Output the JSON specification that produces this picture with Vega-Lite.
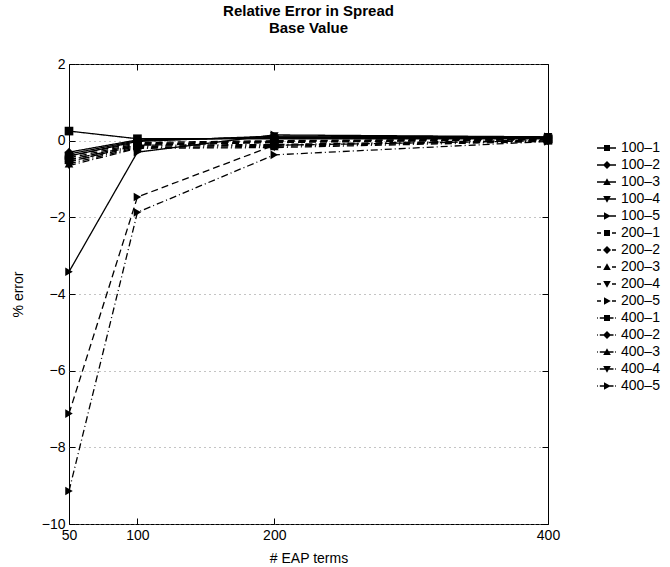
{
  "$schema": "https://vega.github.io/schema/vega-lite/v6.json",
  "width": 479,
  "height": 460,
  "autosize": "none",
  "padding": {"left": 69, "top": 64, "right": 122, "bottom": 43},
  "config": {
    "view": {"stroke": "black", "strokeWidth": 1},
    "font": "Liberation Sans",
    "axis": {
      "labelFont": "Liberation Sans", "labelFontSize": 14, "labelColor": "black",
      "titleFont": "Liberation Sans", "titleFontSize": 14, "titleFontWeight": "normal", "titleColor": "black",
      "domainColor": "black", "tickColor": "black", "grid": false
    }
  },
  "title": {
    "text": ["Relative Error in Spread", "Base Value"],
    "anchor": "middle", "fontSize": 15, "fontWeight": "bold", "font": "Liberation Sans",
    "color": "black", "offset": 21, "lineHeight": 17
  },
  "data": {
    "values": [
      {"s": "100–1", "g": "100", "m": "sq", "x": 50, "y": 0.25},
      {"s": "100–1", "g": "100", "m": "sq", "x": 100, "y": 0.05},
      {"s": "100–1", "g": "100", "m": "sq", "x": 200, "y": 0.05},
      {"s": "100–1", "g": "100", "m": "sq", "x": 400, "y": 0.05},
      {"s": "100–2", "g": "100", "m": "di", "x": 50, "y": -0.3},
      {"s": "100–2", "g": "100", "m": "di", "x": 100, "y": 0.02},
      {"s": "100–2", "g": "100", "m": "di", "x": 200, "y": 0.08},
      {"s": "100–2", "g": "100", "m": "di", "x": 400, "y": 0.08},
      {"s": "100–3", "g": "100", "m": "up", "x": 50, "y": -0.35},
      {"s": "100–3", "g": "100", "m": "up", "x": 100, "y": 0.0},
      {"s": "100–3", "g": "100", "m": "up", "x": 200, "y": 0.1},
      {"s": "100–3", "g": "100", "m": "up", "x": 400, "y": 0.08},
      {"s": "100–4", "g": "100", "m": "dn", "x": 50, "y": -0.4},
      {"s": "100–4", "g": "100", "m": "dn", "x": 100, "y": -0.02},
      {"s": "100–4", "g": "100", "m": "dn", "x": 200, "y": 0.12},
      {"s": "100–4", "g": "100", "m": "dn", "x": 400, "y": 0.1},
      {"s": "100–5", "g": "100", "m": "rt", "x": 50, "y": -3.42},
      {"s": "100–5", "g": "100", "m": "rt", "x": 100, "y": -0.3},
      {"s": "100–5", "g": "100", "m": "rt", "x": 200, "y": 0.15},
      {"s": "100–5", "g": "100", "m": "rt", "x": 400, "y": 0.1},
      {"s": "200–1", "g": "200", "m": "sq", "x": 50, "y": -0.4},
      {"s": "200–1", "g": "200", "m": "sq", "x": 100, "y": -0.05},
      {"s": "200–1", "g": "200", "m": "sq", "x": 200, "y": 0.0},
      {"s": "200–1", "g": "200", "m": "sq", "x": 400, "y": 0.05},
      {"s": "200–2", "g": "200", "m": "di", "x": 50, "y": -0.45},
      {"s": "200–2", "g": "200", "m": "di", "x": 100, "y": -0.08},
      {"s": "200–2", "g": "200", "m": "di", "x": 200, "y": -0.02},
      {"s": "200–2", "g": "200", "m": "di", "x": 400, "y": 0.05},
      {"s": "200–3", "g": "200", "m": "up", "x": 50, "y": -0.5},
      {"s": "200–3", "g": "200", "m": "up", "x": 100, "y": -0.1},
      {"s": "200–3", "g": "200", "m": "up", "x": 200, "y": -0.03},
      {"s": "200–3", "g": "200", "m": "up", "x": 400, "y": 0.03},
      {"s": "200–4", "g": "200", "m": "dn", "x": 50, "y": -0.55},
      {"s": "200–4", "g": "200", "m": "dn", "x": 100, "y": -0.12},
      {"s": "200–4", "g": "200", "m": "dn", "x": 200, "y": -0.05},
      {"s": "200–4", "g": "200", "m": "dn", "x": 400, "y": 0.03},
      {"s": "200–5", "g": "200", "m": "rt", "x": 50, "y": -7.12},
      {"s": "200–5", "g": "200", "m": "rt", "x": 100, "y": -1.47},
      {"s": "200–5", "g": "200", "m": "rt", "x": 200, "y": -0.12},
      {"s": "200–5", "g": "200", "m": "rt", "x": 400, "y": 0.0},
      {"s": "400–1", "g": "400", "m": "sq", "x": 50, "y": -0.5},
      {"s": "400–1", "g": "400", "m": "sq", "x": 100, "y": -0.12},
      {"s": "400–1", "g": "400", "m": "sq", "x": 200, "y": -0.1},
      {"s": "400–1", "g": "400", "m": "sq", "x": 400, "y": 0.02},
      {"s": "400–2", "g": "400", "m": "di", "x": 50, "y": -0.55},
      {"s": "400–2", "g": "400", "m": "di", "x": 100, "y": -0.15},
      {"s": "400–2", "g": "400", "m": "di", "x": 200, "y": -0.12},
      {"s": "400–2", "g": "400", "m": "di", "x": 400, "y": 0.0},
      {"s": "400–3", "g": "400", "m": "up", "x": 50, "y": -0.6},
      {"s": "400–3", "g": "400", "m": "up", "x": 100, "y": -0.18},
      {"s": "400–3", "g": "400", "m": "up", "x": 200, "y": -0.15},
      {"s": "400–3", "g": "400", "m": "up", "x": 400, "y": 0.0},
      {"s": "400–4", "g": "400", "m": "dn", "x": 50, "y": -0.65},
      {"s": "400–4", "g": "400", "m": "dn", "x": 100, "y": -0.2},
      {"s": "400–4", "g": "400", "m": "dn", "x": 200, "y": -0.18},
      {"s": "400–4", "g": "400", "m": "dn", "x": 400, "y": -0.02},
      {"s": "400–5", "g": "400", "m": "rt", "x": 50, "y": -9.14},
      {"s": "400–5", "g": "400", "m": "rt", "x": 100, "y": -1.87},
      {"s": "400–5", "g": "400", "m": "rt", "x": 200, "y": -0.37},
      {"s": "400–5", "g": "400", "m": "rt", "x": 400, "y": -0.02}
    ]
  },
  "layer": [
    {
      "mark": {"type": "line", "color": "black", "strokeWidth": 1.3},
      "encoding": {
        "x": {"field": "x", "type": "quantitative", "scale": {"domain": [50, 400], "nice": false, "zero": false},
          "axis": {"values": [50, 100, 200, 400], "tickSize": -6, "labelPadding": 10, "labelFlush": false, "title": "# EAP terms", "titlePadding": 9, "domain": false}},
        "y": {"field": "y", "type": "quantitative", "scale": {"domain": [-10, 2], "nice": false, "zero": false},
          "axis": {"values": [-10, -8, -6, -4, -2, 0, 2], "tickSize": -6, "labelPadding": 10, "labelFlush": false, "grid": true, "gridDash": [1, 4], "gridColor": "#888888", "title": "% error", "titlePadding": 16, "domain": false}},
        "detail": {"field": "s", "type": "nominal"},
        "strokeDash": {"field": "g", "type": "nominal", "scale": {"domain": ["100", "200", "400"], "range": [[1, 0], [7, 4], [7, 3, 1, 3]]}, "legend": null}
      }
    },
    {
      "mark": {"type": "point", "filled": true, "color": "black", "size": 75, "opacity": 1},
      "encoding": {
        "x": {"field": "x", "type": "quantitative", "axis": {"orient": "top", "values": [50, 100, 200, 400], "tickSize": -6, "labels": false, "title": null, "domain": false}},
        "y": {"field": "y", "type": "quantitative", "axis": {"orient": "right", "values": [-10, -8, -6, -4, -2, 0, 2], "tickSize": -6, "labels": false, "title": null, "domain": false}},
        "shape": {"field": "m", "type": "nominal", "scale": {"domain": ["sq", "di", "up", "dn", "rt"], "range": ["square", "diamond", "triangle-up", "triangle-down", "triangle-right"]}, "legend": null}
      }
    },
    {
      "transform": [{"filter": "datum.x > 1000"}],
      "mark": {"type": "point", "filled": true, "color": "black", "opacity": 1},
      "encoding": {
        "x": {"field": "x", "type": "quantitative", "axis": null},
        "y": {"field": "y", "type": "quantitative", "axis": null},
        "shape": {
          "field": "s", "type": "nominal",
          "scale": {
            "domain": ["100–1", "100–2", "100–3", "100–4", "100–5", "200–1", "200–2", "200–3", "200–4", "200–5", "400–1", "400–2", "400–3", "400–4", "400–5"],
            "range": [
              "M-1,-0.065L0.9,-0.065L0.9,0.065L-1,0.065ZM-0.3,-0.3L0.3,-0.3L0.3,0.3L-0.3,0.3Z",
              "M-1,-0.065L0.9,-0.065L0.9,0.065L-1,0.065ZM0,-0.4L0.4,0L0,0.4L-0.4,0Z",
              "M-1,-0.065L0.9,-0.065L0.9,0.065L-1,0.065ZM0,-0.38L0.38,0.3L-0.38,0.3Z",
              "M-1,-0.065L0.9,-0.065L0.9,0.065L-1,0.065ZM0,0.38L-0.38,-0.3L0.38,-0.3Z",
              "M-1,-0.065L0.9,-0.065L0.9,0.065L-1,0.065ZM0.38,0L-0.3,0.38L-0.3,-0.38Z",
              "M-1,-0.065L-0.6,-0.065L-0.6,0.065L-1,0.065ZM0.5,-0.065L0.9,-0.065L0.9,0.065L0.5,0.065ZM-0.3,-0.3L0.3,-0.3L0.3,0.3L-0.3,0.3Z",
              "M-1,-0.065L-0.6,-0.065L-0.6,0.065L-1,0.065ZM0.5,-0.065L0.9,-0.065L0.9,0.065L0.5,0.065ZM0,-0.4L0.4,0L0,0.4L-0.4,0Z",
              "M-1,-0.065L-0.6,-0.065L-0.6,0.065L-1,0.065ZM0.5,-0.065L0.9,-0.065L0.9,0.065L0.5,0.065ZM0,-0.38L0.38,0.3L-0.38,0.3Z",
              "M-1,-0.065L-0.6,-0.065L-0.6,0.065L-1,0.065ZM0.5,-0.065L0.9,-0.065L0.9,0.065L0.5,0.065ZM0,0.38L-0.38,-0.3L0.38,-0.3Z",
              "M-1,-0.065L-0.6,-0.065L-0.6,0.065L-1,0.065ZM0.5,-0.065L0.9,-0.065L0.9,0.065L0.5,0.065ZM0.38,0L-0.3,0.38L-0.3,-0.38Z",
              "M-1,-0.065L-0.92,-0.065L-0.92,0.065L-1,0.065ZM-0.72,-0.065L0.65,-0.065L0.65,0.065L-0.72,0.065ZM0.82,-0.065L0.9,-0.065L0.9,0.065L0.82,0.065ZM-0.3,-0.3L0.3,-0.3L0.3,0.3L-0.3,0.3Z",
              "M-1,-0.065L-0.92,-0.065L-0.92,0.065L-1,0.065ZM-0.72,-0.065L0.65,-0.065L0.65,0.065L-0.72,0.065ZM0.82,-0.065L0.9,-0.065L0.9,0.065L0.82,0.065ZM0,-0.4L0.4,0L0,0.4L-0.4,0Z",
              "M-1,-0.065L-0.92,-0.065L-0.92,0.065L-1,0.065ZM-0.72,-0.065L0.65,-0.065L0.65,0.065L-0.72,0.065ZM0.82,-0.065L0.9,-0.065L0.9,0.065L0.82,0.065ZM0,-0.38L0.38,0.3L-0.38,0.3Z",
              "M-1,-0.065L-0.92,-0.065L-0.92,0.065L-1,0.065ZM-0.72,-0.065L0.65,-0.065L0.65,0.065L-0.72,0.065ZM0.82,-0.065L0.9,-0.065L0.9,0.065L0.82,0.065ZM0,0.38L-0.38,-0.3L0.38,-0.3Z",
              "M-1,-0.065L-0.92,-0.065L-0.92,0.065L-1,0.065ZM-0.72,-0.065L0.65,-0.065L0.65,0.065L-0.72,0.065ZM0.82,-0.065L0.9,-0.065L0.9,0.065L0.82,0.065ZM0.38,0L-0.3,0.38L-0.3,-0.38Z"
            ]
          },
          "legend": {
            "title": null, "orient": "none", "legendX": 528, "legendY": 74,
            "symbolSize": 400, "labelFont": "Liberation Sans", "labelFontSize": 14, "labelColor": "black",
            "labelOffset": 4, "rowPadding": -2.2,
            "symbolFillColor": "black", "symbolOpacity": 1, "symbolStrokeWidth": 0,
            "encode": {"symbols": {"update": {"fill": {"value": "black"}, "opacity": {"value": 1}}}}
          }
        }
      }
    }
  ],
  "resolve": {"scale": {"shape": "independent", "strokeDash": "independent"}, "axis": {"x": "independent", "y": "independent"}}
}
